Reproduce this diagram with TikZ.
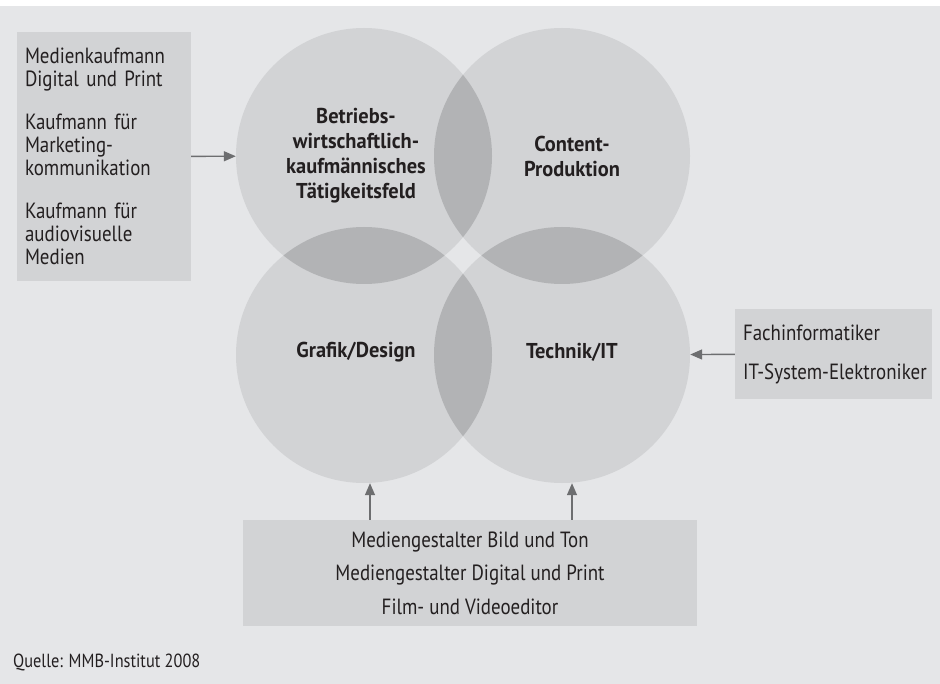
\documentclass[tikz,border=0pt]{standalone}
\usepackage{fontspec}
\setmainfont{PT Sans}[FakeStretch=0.86]
\newfontfamily\fieldfont{PT Sans}[UprightFont=* Bold, FakeStretch=0.95]
\usetikzlibrary{arrows.meta}
\definecolor{bggray}{HTML}{E5E6E8}
\definecolor{setgray}{HTML}{D2D3D5}
\definecolor{cutgray}{HTML}{B2B3B5}
\definecolor{arrgray}{HTML}{6D6E70}
\definecolor{txtgray}{HTML}{231F20}
\tikzset{
  venn/.style={circle, fill=setgray, minimum size=256pt, inner sep=0pt},
  field/.style={align=center, text=txtgray, font=\fieldfont\fontsize{21.5}{25}\selectfont},
  jobbox/.style={fill=setgray, inner sep=0pt, text=txtgray, font=\fontsize{22}{23}\selectfont},
  arr/.style={-{Triangle[length=12pt,width=10pt]}, arrgray, line width=1.4pt}
}
\begin{document}
\begin{tikzpicture}[x=1pt,y=-1pt]
\useasboundingbox (0,0) rectangle (940,684);
% Background
\fill[bggray] (0,6) rectangle (940,684);

% Four fields
\coordinate (c1) at (364,156);
\coordinate (c2) at (562,156);
\coordinate (c3) at (364,355);
\coordinate (c4) at (562,355);
\node[venn] (bwl) at (c1) {};
\node[venn] (content) at (c2) {};
\node[venn] (grafik) at (c3) {};
\node[venn] (technik) at (c4) {};

% Overlaps
\foreach \a/\b in {c1/c2, c1/c3, c2/c4, c3/c4}{
  \begin{scope}
    \clip (\a) circle (128);
    \fill[cutgray] (\b) circle (128);
  \end{scope}
}

% Labels
\node[field] (bwltext) at ([xshift=-8]c1) {Betriebs-\\wirtschaftlich-\\kaufmännisches\\Tätigkeitsfeld};
\node[field] (contenttext) at ([xshift=10]c2) {Content-\\Produktion};
\node[field] (grafiktext) at ([xshift=-8,yshift=3]c3) {Grafik/Design};
\node[field] (techniktext) at ([xshift=10,yshift=3]c4) {Technik/IT};

% Job boxes
\node[jobbox, minimum width=174pt, minimum height=249pt, align=left, text width=158pt]
  (kfm) at (104,156.5) {Medienkaufmann\\Digital und Print\\[20pt]Kaufmann für\\Marketing-\\kommunikation\\[20pt]Kaufmann für\\audiovisuelle\\Medien};
\node[jobbox, minimum width=197pt, minimum height=90pt, align=left, text width=181pt,
  font=\fontsize{22}{39}\selectfont]
  (it) at (833.5,354) {Fachinformatiker\\\mbox{IT-System-Elektroniker}};
\node[jobbox, minimum width=454pt, minimum height=106pt, align=center,
  font=\fontsize{22}{33.5}\selectfont]
  (medien) at (470,573) {Mediengestalter Bild und Ton\\Mediengestalter Digital und Print\\Film- und Videoeditor};

% Arrows
\draw[arr] (kfm) -- (bwl);
\draw[arr] (it) -- (technik);
\draw[arr] ([xshift=6]medien.north -| grafik.south) -- ([xshift=6]grafik.south);
\draw[arr] ([xshift=10]medien.north -| technik.south) -- ([xshift=10]technik.south);

% Source
\node[anchor=west, text=txtgray, font=\fontsize{19}{20}\selectfont, inner sep=0pt] (quelle) at (13,662) {Quelle: MMB-Institut 2008};
\end{tikzpicture}
\end{document}
